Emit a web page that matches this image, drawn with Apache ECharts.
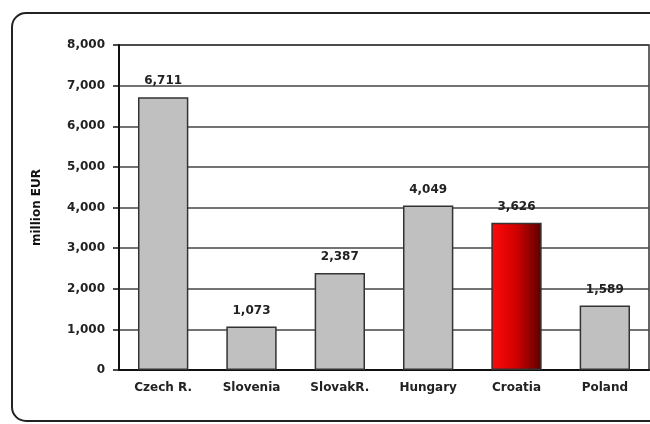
<!DOCTYPE html>
<html>
<head>
<meta charset="utf-8">
<script src="https://cdn.jsdelivr.net/npm/echarts@6/dist/echarts.min.js"></script>
<style>
  html, body { margin: 0; padding: 0; background: #fff; }
  #chart { width: 650px; height: 424px; }
</style>
</head>
<body>
<div id="chart"></div>
<script>
var countries = ['Czech R.', 'Slovenia', 'SlovakR.', 'Hungary', 'Croatia', 'Poland'];
var fdi = [6711, 1073, 2387, 4049, 3626, 1589];   // million EUR
var highlight = 'Croatia';

var font = '"DejaVu Sans", Arial, sans-serif';

var greyBar = { color: '#c0c0c0', borderColor: '#333', borderWidth: 1.5 };
var redBar = {
    color: new echarts.graphic.LinearGradient(0, 0, 1, 0, [
        { offset: 0, color: '#ff0a0a' },
        { offset: 0.5, color: '#d00000' },
        { offset: 1, color: '#5a0000' }
    ]),
    borderColor: '#333',
    borderWidth: 1.5
};

var option = {
    animation: false,
    backgroundColor: '#fff',
    graphic: [{
        type: 'rect',
        z: -10,
        shape: { x: 12, y: 13, width: 700, height: 408, r: 14 },
        style: { fill: 'none', stroke: '#222', lineWidth: 2 }
    }],
    grid: {
        left: 119, right: 1, top: 45, bottom: 54,
        show: true, borderColor: '#333', borderWidth: 1.5
    },
    xAxis: {
        type: 'category',
        data: countries,
        axisLine: { lineStyle: { color: '#111', width: 2 } },
        axisTick: { length: 6, lineStyle: { color: '#111', width: 1.5 } },
        axisLabel: {
            color: '#222', fontFamily: font, fontWeight: 'bold', fontSize: 12, margin: 12
        }
    },
    yAxis: {
        type: 'value',
        min: 0, max: 8000, interval: 1000,
        name: 'million EUR',
        nameLocation: 'middle',
        nameRotate: 90,
        nameGap: 76,
        nameTextStyle: { color: '#111', fontFamily: font, fontWeight: 'bold', fontSize: 12 },
        axisLine: { show: true, lineStyle: { color: '#111', width: 2 } },
        axisTick: { show: true, length: 6, lineStyle: { color: '#111', width: 1.5 } },
        axisLabel: {
            color: '#222', fontFamily: font, fontWeight: 'bold', fontSize: 12, margin: 14,
            formatter: function (v) { return v.toLocaleString('en-US'); }
        },
        splitLine: { lineStyle: { color: '#444', width: 1.5 } }
    },
    series: [{
        type: 'bar',
        barWidth: '57%',
        data: fdi.map(function (v, i) {
            return { value: v, itemStyle: countries[i] === highlight ? redBar : greyBar };
        }),
        label: {
            show: true,
            position: 'top',
            distance: 10,
            color: '#222',
            fontFamily: font,
            fontWeight: 'bold',
            fontSize: 12,
            formatter: function (p) { return p.value.toLocaleString('en-US'); }
        }
    }]
};

var chart = echarts.init(document.getElementById('chart'));
chart.setOption(option);
</script>
</body>
</html>
